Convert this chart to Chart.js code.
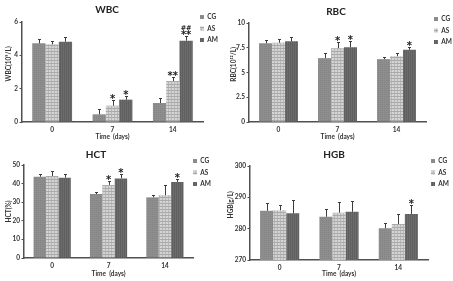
<!DOCTYPE html>
<html lang="en">
<head>
<meta charset="UTF-8">
<title>Blood parameters</title>
<script src="https://cdn.jsdelivr.net/npm/chart.js"></script>
<style>
  body { margin: 0; background: #fff; }
  canvas { position: absolute; }
</style>
</head>
<body>
<canvas id="wbc" width="226" height="140" style="left:0;top:0"></canvas>
<canvas id="rbc" width="227" height="140" style="left:226px;top:0"></canvas>
<canvas id="hct" width="226" height="141" style="left:0;top:140px"></canvas>
<canvas id="hgb" width="227" height="141" style="left:226px;top:140px"></canvas>

<script>
const days = ['0', '7', '14'];
const groups = ['CG', 'AS', 'AM'];

// WBC (10^9/L)
const wbcCG = [4.72, 0.46, 1.14];
const wbcAS = [4.66, 0.98, 2.46];
const wbcAM = [4.82, 1.34, 4.88];
const wbcErrCG = [0.26, 0.30, 0.30];
const wbcErrAS = [0.22, 0.32, 0.26];
const wbcErrAM = [0.30, 0.24, 0.28];
const wbcMarkAS = ['', '*', '**'];
const wbcMarkAM = ['', '*', '**'];
const wbcHashAM = ['', '', '##'];

// RBC (10^12/L)
const rbcCG = [7.95, 6.45, 6.35];
const rbcAS = [8.0, 7.45, 6.65];
const rbcAM = [8.15, 7.55, 7.3];
const rbcErrCG = [0.35, 0.55, 0.25];
const rbcErrAS = [0.35, 0.65, 0.35];
const rbcErrAM = [0.4, 0.6, 0.3];
const rbcMarkAS = ['', '*', ''];
const rbcMarkAM = ['', '*', '*'];

// HCT (%)
const hctCG = [43.7, 34.4, 32.6];
const hctAS = [44.1, 39.3, 33.8];
const hctAM = [43.2, 42.8, 40.9];
const hctErrCG = [1.4, 1.2, 1.2];
const hctErrAS = [2.9, 2.0, 5.5];
const hctErrAM = [2.2, 2.3, 1.5];
const hctMarkAS = ['', '*', ''];
const hctMarkAM = ['', '*', '*'];

// HGB (g/L)
const hgbCG = [285.7, 283.8, 280.1];
const hgbAS = [285.9, 285.1, 281.5];
const hgbAM = [284.9, 285.4, 284.7];
const hgbErrCG = [2.4, 2.4, 1.6];
const hgbErrAS = [1.8, 3.3, 3.1];
const hgbErrAM = [4.2, 3.3, 2.9];
const hgbMarkAS = ['', '', ''];
const hgbMarkAM = ['', '', '*'];

const FONT = 'Lato, "Liberation Sans", sans-serif';
const AXIS = '#505050';
const tickFont = { family: FONT, size: 6.5, weight: 'bold' };

// bar fills: plain, plaid, dark
function makePattern(kind) {
  const c = document.createElement('canvas');
  const g = c.getContext('2d');
  if (kind === 'CG') {
    c.width = 2; c.height = 2;
    g.fillStyle = '#8e8e8e'; g.fillRect(0, 0, 2, 2);
    g.fillStyle = '#838383'; g.fillRect(0, 0, 1, 1);
  } else if (kind === 'AS') {
    c.width = 3; c.height = 3;
    g.fillStyle = '#d4d4d4'; g.fillRect(0, 0, 3, 3);
    g.fillStyle = '#b8b8b8'; g.fillRect(0, 0, 1, 3);
    g.fillStyle = '#aaaaaa'; g.fillRect(0, 0, 3, 1);
  } else {
    c.width = 2; c.height = 2;
    g.fillStyle = '#6c6c6c'; g.fillRect(0, 0, 2, 2);
    g.fillStyle = '#5f5f5f'; g.fillRect(0, 0, 1, 2);
  }
  return g.createPattern(c, 'repeat');
}
const fills = { CG: makePattern('CG'), AS: makePattern('AS'), AM: makePattern('AM') };

// error bars (upper only) and significance marks
const errorBars = {
  id: 'errorBars',
  afterDatasetsDraw(chart) {
    const ctx = chart.ctx;
    const y = chart.scales.y;
    ctx.save();
    chart.data.datasets.forEach((ds, i) => {
      chart.getDatasetMeta(i).data.forEach((bar, j) => {
        const top = Math.round(y.getPixelForValue(ds.data[j] + ds.err[j])) + 0.5;
        const x = Math.round(bar.x) + 0.5;
        ctx.strokeStyle = '#3c3c3c';
        ctx.lineWidth = 1;
        ctx.beginPath();
        ctx.moveTo(x, bar.y);
        ctx.lineTo(x, top);
        ctx.moveTo(x - 1.5, top);
        ctx.lineTo(x + 1.5, top);
        ctx.stroke();
        ctx.fillStyle = '#222';
        ctx.textAlign = 'center';
        ctx.textBaseline = 'alphabetic';
        if (ds.marks && ds.marks[j]) {
          ctx.font = 'bold 10px "DejaVu Sans"';
          ctx.fillText(ds.marks[j], bar.x, top + 1.5);
        }
        if (ds.hash && ds.hash[j]) {
          ctx.font = 'bold 6.5px "DejaVu Sans"';
          ctx.fillText(ds.hash[j], bar.x, top - 7);
        }
      });
    });
    ctx.restore();
  }
};

// pin legend and title where the figure has them
const placeBoxes = {
  id: 'placeBoxes',
  afterLayout(chart, args, o) {
    const lg = chart.legend;
    const pad = lg.options.labels.padding;
    lg.left = o.legX - pad;
    lg.top = o.legY - pad - 3.25;
    const t = chart.titleBlock;
    t.left = o.titleX - 60;
    t.right = o.titleX + 60;
    t.top = o.titleY - 5;
  }
};

function panel(id, g, cg, as, am, errs, marksAS, marksAM, hashAM, yTitle, yOpts) {
  const sets = [cg, as, am].map((d, i) => ({
    label: groups[i],
    data: d,
    err: errs[i],
    marks: i === 1 ? marksAS : i === 2 ? marksAM : null,
    hash: i === 2 ? hashAM : null,
    backgroundColor: fills[groups[i]],
    borderWidth: 0,
    categoryPercentage: 0.66,
    barPercentage: 1.0
  }));
  new Chart(document.getElementById(id), {
    type: 'bar',
    data: { labels: days, datasets: sets },
    plugins: [errorBars, placeBoxes],
    options: {
      responsive: false,
      animation: false,
      layout: { padding: { left: 0, right: 0, top: 0, bottom: g.H - g.xTitleY - 3 } },
      scales: {
        x: {
          grid: { display: false, drawTicks: false },
          border: { display: true, color: AXIS, width: 1.5 },
          ticks: { color: '#333', font: tickFont, padding: 4 },
          title: { display: true, text: 'Time  (days)', color: '#333', padding: 0,
                   font: { family: FONT, size: 6.5, weight: 'bold', lineHeight: 1 } },
          afterFit: s => { s.height = g.xTitleY + 3 - g.B; }
        },
        y: Object.assign({
          grid: { display: true, drawOnChartArea: false, drawTicks: true, tickLength: 2.5, color: AXIS, lineWidth: 1 },
          border: { display: true, color: AXIS, width: 1.5 },
          title: { display: true, text: yTitle, color: '#333', padding: { top: g.yPad, bottom: 0 },
                   font: { family: FONT, size: 6.5, weight: 'bold', lineHeight: 1 } },
          afterFit: s => { s.width = g.L; }
        }, yOpts)
      },
      plugins: {
        title: { display: true, text: id.toUpperCase(), color: '#222',
                 font: { family: FONT, size: 10, weight: 'bold', lineHeight: 1 },
                 padding: { top: 0, bottom: g.T - 10 } },
        legend: {
          position: 'right', align: 'start', maxWidth: g.W - g.R,
          labels: { boxWidth: 4, boxHeight: 4, padding: 5, color: '#333',
                    font: { family: FONT, size: 6.5, weight: 'bold' } }
        },
        tooltip: { enabled: false },
        placeBoxes: { legX: g.legX, legY: g.legY, titleX: g.titleX, titleY: g.titleY }
      }
    }
  });
}

panel('wbc', { W: 226, H: 140, L: 22, R: 203, T: 22, B: 122, titleX: 107, titleY: 10, legX: 200, legY: 17, xTitleY: 137, yPad: 5.5 },
  wbcCG, wbcAS, wbcAM, [wbcErrCG, wbcErrAS, wbcErrAM], wbcMarkAS, wbcMarkAM, wbcHashAM,
  '\u2002\u2002\u2002\u2002\u2002WBC(10\u2079/L)',
  { min: 0, max: 6, ticks: { stepSize: 2, color: '#333', font: tickFont, padding: 1.5 } });

panel('rbc', { W: 227, H: 140, L: 23, R: 200, T: 23, B: 122, titleX: 110, titleY: 12, legX: 208, legY: 19, xTitleY: 137, yPad: 4.5 },
  rbcCG, rbcAS, rbcAM, [rbcErrCG, rbcErrAS, rbcErrAM], rbcMarkAS, rbcMarkAM, null,
  '\u2002\u2002\u2002\u2002\u2002RBC(10\u00b9\u00b2/L)',
  { min: 0, max: 10, ticks: { stepSize: 2.5, color: '#333', font: tickFont, padding: 1.5 } });

panel('hct', { W: 226, H: 141, L: 24, R: 193, T: 25, B: 118, titleX: 96, titleY: 15, legX: 193, legY: 21, xTitleY: 134, yPad: 5.5 },
  hctCG, hctAS, hctAM, [hctErrCG, hctErrAS, hctErrAM], hctMarkAS, hctMarkAM, null,
  'HCT(%)',
  { min: 0, max: 50, ticks: { stepSize: 10, color: '#333', font: tickFont, padding: 1.5 } });

panel('hgb', { W: 227, H: 141, L: 24, R: 202, T: 26, B: 120, titleX: 108, titleY: 15, legX: 205, legY: 21, xTitleY: 134, yPad: 2 },
  hgbCG, hgbAS, hgbAM, [hgbErrCG, hgbErrAS, hgbErrAM], hgbMarkAS, hgbMarkAM, null,
  '\u2002\u2002\u2002\u2002\u2002HGB(g/L)',
  { min: 270, max: 300, ticks: { stepSize: 10, color: '#333', font: tickFont, padding: 1.5 } });
</script>
</body>
</html>
